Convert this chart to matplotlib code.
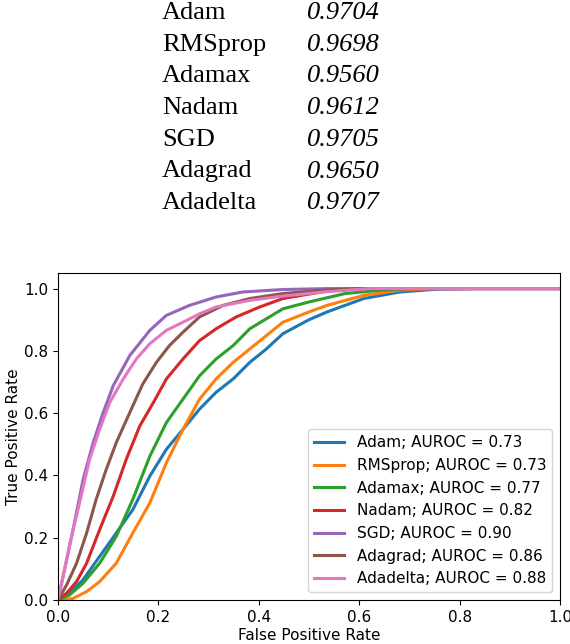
import numpy as np
import matplotlib.pyplot as plt

# tabla superior
optimizadores = ["Adam", "RMSprop", "Adamax", "Nadam", "SGD", "Adagrad", "Adadelta"]
precision = ["0.9704", "0.9698", "0.9560", "0.9612", "0.9705", "0.9650", "0.9707"]
auroc = [0.73, 0.73, 0.77, 0.82, 0.90, 0.86, 0.88]

# curvas ROC (fpr, tpr)
adam_fpr = [0, 0.023, 0.05, 0.083, 0.116, 0.149, 0.183, 0.216, 0.249, 0.282, 0.315, 0.349, 0.382, 0.415, 0.448,
            0.5, 0.536, 0.609, 0.681, 0.754, 0.83, 1.0]
adam_tpr = [0, 0.022, 0.065, 0.14, 0.215, 0.29, 0.398, 0.484, 0.548, 0.613, 0.667, 0.71, 0.763, 0.806, 0.855,
            0.9, 0.925, 0.968, 0.989, 0.998, 1.0, 1.0]
rms_fpr = [0, 0.03, 0.057, 0.083, 0.116, 0.149, 0.183, 0.216, 0.249, 0.282, 0.315, 0.349, 0.382, 0.415, 0.448,
           0.5, 0.536, 0.609, 0.681, 0.754, 1.0]
rms_tpr = [0, 0.005, 0.027, 0.059, 0.118, 0.215, 0.312, 0.441, 0.548, 0.645, 0.71, 0.763, 0.806, 0.849, 0.892,
           0.925, 0.946, 0.978, 0.995, 1.0, 1.0]
adamax_fpr = [0, 0.023, 0.05, 0.083, 0.116, 0.149, 0.183, 0.216, 0.249, 0.282, 0.315, 0.349, 0.382, 0.415, 0.448,
              0.5, 0.572, 0.645, 0.7, 1.0]
adamax_tpr = [0, 0.016, 0.054, 0.118, 0.204, 0.323, 0.462, 0.57, 0.645, 0.72, 0.774, 0.817, 0.871, 0.903, 0.935,
              0.957, 0.984, 0.995, 1.0, 1.0]
nadam_fpr = [0, 0.017, 0.037, 0.057, 0.083, 0.11, 0.136, 0.163, 0.19, 0.216, 0.249, 0.282, 0.315, 0.355, 0.402,
             0.448, 0.536, 0.609, 1.0]
nadam_tpr = [0, 0.022, 0.059, 0.118, 0.226, 0.333, 0.452, 0.559, 0.634, 0.71, 0.774, 0.833, 0.871, 0.909, 0.941,
             0.968, 0.992, 1.0, 1.0]
sgd_fpr = [0, 0.013, 0.03, 0.05, 0.07, 0.09, 0.11, 0.143, 0.183, 0.216, 0.262, 0.315, 0.368, 0.448, 0.54, 1.0]
sgd_tpr = [0, 0.097, 0.226, 0.387, 0.505, 0.602, 0.688, 0.785, 0.866, 0.914, 0.946, 0.973, 0.989, 0.997, 1.0, 1.0]
adagrad_fpr = [0, 0.017, 0.037, 0.057, 0.076, 0.096, 0.116, 0.143, 0.169, 0.196, 0.222, 0.249, 0.282, 0.329,
               0.382, 0.448, 0.53, 0.6, 1.0]
adagrad_tpr = [0, 0.048, 0.118, 0.215, 0.323, 0.419, 0.505, 0.602, 0.694, 0.763, 0.817, 0.86, 0.909, 0.946,
               0.968, 0.984, 0.995, 1.0, 1.0]
adadelta_fpr = [0, 0.01, 0.025, 0.043, 0.063, 0.083, 0.103, 0.13, 0.156, 0.183, 0.216, 0.249, 0.282, 0.315,
                0.382, 0.448, 0.536, 0.62, 1.0]
adadelta_tpr = [0, 0.075, 0.19, 0.312, 0.452, 0.548, 0.634, 0.71, 0.774, 0.823, 0.866, 0.892, 0.919, 0.941,
                0.962, 0.976, 0.99, 1.0, 1.0]

curvas = [(adam_fpr, adam_tpr), (rms_fpr, rms_tpr), (adamax_fpr, adamax_tpr),
          (nadam_fpr, nadam_tpr), (sgd_fpr, sgd_tpr), (adagrad_fpr, adagrad_tpr),
          (adadelta_fpr, adadelta_tpr)]

fig = plt.figure(figsize=(5.7, 6.44), dpi=100)

for i, (nombre, valor) in enumerate(zip(optimizadores, precision)):
    y = 1 - (19 + 31.7 * i) / 644
    fig.text(162 / 570, y, nombre, family="Liberation Serif", fontsize=19, va="baseline")
    fig.text(307 / 570, y, valor, family="Liberation Serif", fontsize=19, style="italic", va="baseline")

ax = fig.add_axes([58 / 570, 44 / 644, 502 / 570, 327 / 644])
for nombre, a, (fpr, tpr) in zip(optimizadores, auroc, curvas):
    ax.plot(fpr, tpr, lw=2.2, label=f"{nombre}; AUROC = {a:.2f}")

ax.set_xlim(0, 1.0)
ax.set_ylim(0, 1.05)
ax.tick_params(labelsize=11)
ax.set_xlabel("False Positive Rate", fontsize=11, labelpad=2)
ax.set_ylabel("True Positive Rate", fontsize=11, labelpad=2)
ax.legend(loc="lower right", fontsize=11)

plt.savefig("out.png")
